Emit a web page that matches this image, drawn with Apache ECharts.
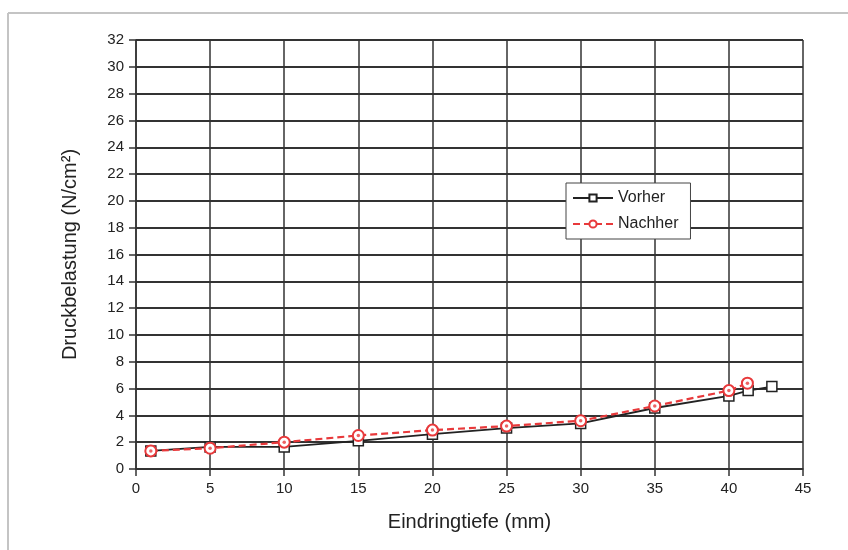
<!DOCTYPE html>
<html><head><meta charset="utf-8">
<script src="https://cdn.jsdelivr.net/npm/echarts@6/dist/echarts.min.js"></script>
<style>html,body{margin:0;padding:0;background:#fff}#c{width:848px;height:550px}</style>
</head><body><div id="c"></div>
<script>
const vorherX = [1, 5, 10, 15, 20, 25, 30, 35, 40, 41.3, 42.9];
const vorherY = [1.35, 1.65, 1.65, 2.1, 2.6, 3.05, 3.4, 4.55, 5.45, 5.85, 6.15];
const nachherX = [1, 5, 10, 15, 20, 25, 30, 35, 40, 41.25];
const nachherY = [1.35, 1.55, 2.0, 2.5, 2.9, 3.2, 3.6, 4.7, 5.85, 6.4];
const xTicks = [0, 45, 5];
const yTicks = [0, 32, 2];

const chart = echarts.init(document.getElementById('c'));
const font = 'Liberation Sans, Arial, Helvetica, sans-serif';
const nachherData = nachherX.map((x, i) => [x, nachherY[i]]);
chart.setOption({
  animation: false,
  backgroundColor: '#fff',
  graphic: [
    {type: 'line', shape: {x1: 8, y1: 13, x2: 848, y2: 13}, style: {stroke: '#c4c4c4', lineWidth: 2}},
    {type: 'line', shape: {x1: 8, y1: 13, x2: 8, y2: 550}, style: {stroke: '#c4c4c4', lineWidth: 2}}
  ],
  grid: {left: 136, right: 45, top: 40, bottom: 81, show: false},
  legend: {
    left: 566, top: 183, orient: 'vertical',
    borderColor: '#444', borderWidth: 1, padding: [7, 12, 7, 6],
    itemGap: 10, itemWidth: 40, itemHeight: 9,
    textStyle: {fontFamily: font, fontSize: 16, color: '#222'},
    data: ['Vorher', 'Nachher'],
    backgroundColor: '#fff'
  },
  xAxis: {
    type: 'value', min: xTicks[0], max: xTicks[1], interval: xTicks[2],
    name: 'Eindringtiefe (mm)', nameLocation: 'middle', nameGap: 43,
    nameTextStyle: {fontFamily: font, fontSize: 20, color: '#222'},
    axisLine: {show: true, lineStyle: {color: '#333', width: 1.5}},
    axisTick: {show: true, length: 7, lineStyle: {color: '#333', width: 1.5}},
    axisLabel: {fontFamily: font, fontSize: 15, color: '#222', margin: 12},
    splitLine: {show: true, lineStyle: {color: '#333', width: 1.5}}
  },
  yAxis: {
    type: 'value', min: yTicks[0], max: yTicks[1], interval: yTicks[2],
    name: 'Druckbelastung (N/cm²)', nameLocation: 'middle', nameGap: 56,
    nameTextStyle: {fontFamily: font, fontSize: 20, color: '#222'},
    axisLine: {show: true, lineStyle: {color: '#333', width: 1.5}},
    axisTick: {show: true, length: 7, lineStyle: {color: '#333', width: 1.5}},
    axisLabel: {fontFamily: font, fontSize: 15, color: '#222', margin: 12},
    splitLine: {show: true, lineStyle: {color: '#333', width: 2}}
  },
  series: [
    {
      name: 'Vorher', type: 'line',
      data: vorherX.map((x, i) => [x, vorherY[i]]),
      symbol: 'rect', symbolSize: 10,
      itemStyle: {color: '#fff', borderColor: '#222', borderWidth: 1.5},
      lineStyle: {color: '#222', width: 1.8},
      z: 3
    },
    {
      name: 'Nachher', type: 'line',
      data: nachherData,
      symbol: 'emptyCircle', symbolSize: 11,
      itemStyle: {color: '#e8393b', borderColor: '#e8393b', borderWidth: 2},
      lineStyle: {color: '#e8393b', width: 2.2, type: [7, 4]},
      z: 4
    },
    {
      name: 'NachherDot', type: 'scatter',
      data: nachherData,
      symbol: 'circle', symbolSize: 3.5,
      itemStyle: {color: '#e8393b'},
      silent: true, z: 5
    }
  ]
});
</script></body></html>
